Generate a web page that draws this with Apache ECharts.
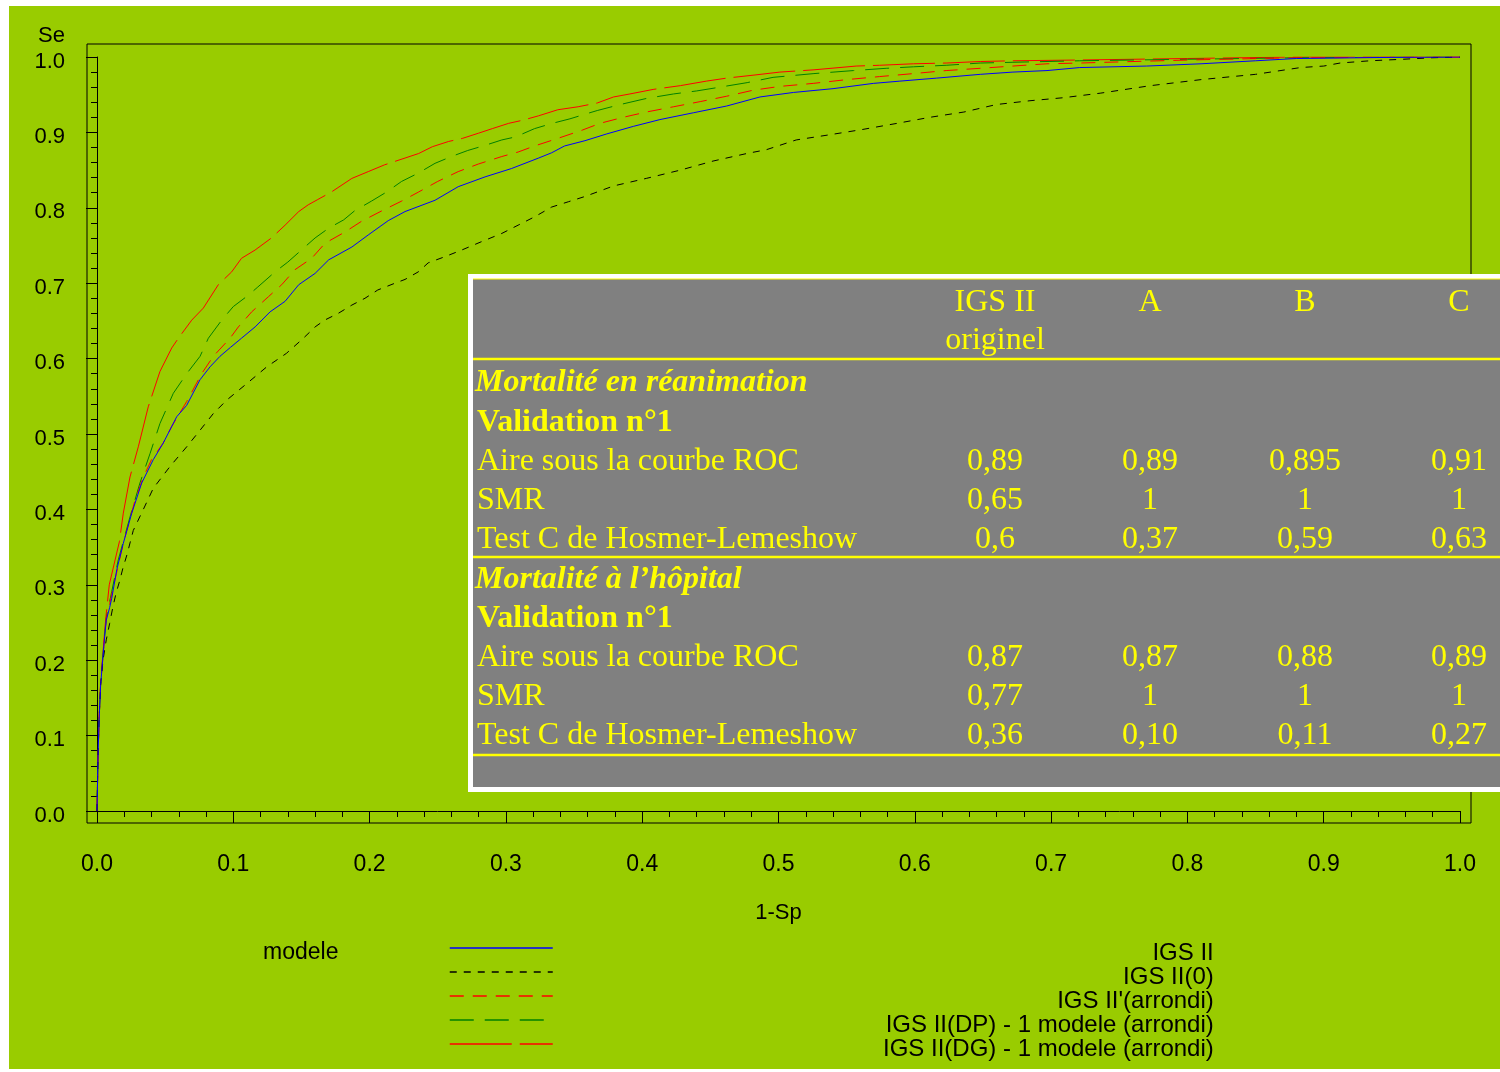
<!DOCTYPE html>
<html>
<head>
<meta charset="utf-8">
<script src="https://cdn.jsdelivr.net/npm/echarts@6/dist/echarts.min.js"></script>
<style>
  html, body { margin: 0; padding: 0; background: #ffffff; }
  #chart { width: 1500px; height: 1072px; }
</style>
</head>
<body>
<div id="chart"></div>
<script>
// ROC curves: [1 - specificity, sensitivity]
const rocIgs2 = [[0,0],[0.0007,0.068],[0.0015,0.12],[0.0027,0.168],[0.0044,0.205],[0.0056,0.231],[0.0068,0.253],[0.0093,0.27],[0.0108,0.282],[0.0145,0.32],[0.0193,0.355],[0.0255,0.395],[0.0328,0.435],[0.0413,0.466],[0.0486,0.488],[0.0585,0.523],[0.0658,0.538],[0.0756,0.572],[0.0829,0.589],[0.0902,0.603],[0.098,0.615],[0.106,0.627],[0.116,0.642],[0.127,0.662],[0.138,0.676],[0.148,0.698],[0.16,0.713],[0.17,0.731],[0.187,0.748],[0.199,0.764],[0.2137,0.783],[0.226,0.795],[0.248,0.81],[0.265,0.828],[0.2847,0.841],[0.304,0.852],[0.324,0.866],[0.3336,0.873],[0.343,0.882],[0.358,0.889],[0.374,0.898],[0.3935,0.908],[0.413,0.917],[0.4375,0.926],[0.462,0.935],[0.4864,0.947],[0.511,0.953],[0.54,0.958],[0.5696,0.965],[0.589,0.968],[0.616,0.972],[0.648,0.977],[0.672,0.98],[0.697,0.982],[0.721,0.986],[0.77,0.988],[0.81,0.991],[0.85,0.995],[0.88,0.998],[0.95,0.9995],[1,1]];

const rocIgs2Zero = [[0,0],[0.0007,0.068],[0.0015,0.12],[0.0027,0.168],[0.0044,0.2],[0.0068,0.227],[0.0093,0.249],[0.0117,0.271],[0.014,0.289],[0.0166,0.305],[0.019,0.322],[0.022,0.34],[0.0266,0.372],[0.034,0.4],[0.0413,0.428],[0.0536,0.457],[0.0658,0.483],[0.0756,0.505],[0.0853,0.527],[0.0952,0.545],[0.11,0.567],[0.1245,0.589],[0.139,0.607],[0.1514,0.627],[0.16,0.642],[0.167,0.651],[0.177,0.66],[0.187,0.671],[0.1966,0.68],[0.206,0.691],[0.2186,0.7],[0.226,0.705],[0.2357,0.715],[0.243,0.727],[0.255,0.735],[0.2676,0.744],[0.282,0.755],[0.297,0.766],[0.309,0.777],[0.321,0.788],[0.3336,0.801],[0.3458,0.808],[0.358,0.815],[0.379,0.829],[0.403,0.839],[0.428,0.85],[0.452,0.862],[0.4767,0.872],[0.491,0.877],[0.513,0.89],[0.538,0.897],[0.562,0.904],[0.587,0.912],[0.611,0.92],[0.636,0.927],[0.66,0.937],[0.6845,0.942],[0.709,0.946],[0.736,0.952],[0.773,0.962],[0.81,0.97],[0.85,0.977],[0.883,0.986],[0.9,0.988],[0.912,0.992],[0.934,0.995],[0.958,0.997],[0.98,0.999],[1,1]];

const rocIgs2Arrondi = [[0,0],[0.0007,0.068],[0.0015,0.12],[0.0027,0.17],[0.0044,0.205],[0.0056,0.232],[0.0068,0.255],[0.0093,0.275],[0.012,0.297],[0.0193,0.355],[0.0279,0.412],[0.034,0.443],[0.04,0.466],[0.0486,0.488],[0.0548,0.51],[0.0658,0.543],[0.0768,0.58],[0.0853,0.603],[0.0976,0.627],[0.1037,0.642],[0.1135,0.662],[0.1257,0.682],[0.1355,0.698],[0.1453,0.718],[0.1575,0.733],[0.1673,0.753],[0.182,0.768],[0.194,0.782],[0.209,0.796],[0.2236,0.809],[0.236,0.821],[0.25,0.835],[0.265,0.848],[0.2797,0.858],[0.297,0.868],[0.309,0.874],[0.321,0.882],[0.338,0.892],[0.356,0.903],[0.369,0.912],[0.386,0.92],[0.403,0.927],[0.423,0.934],[0.443,0.941],[0.462,0.948],[0.4815,0.956],[0.501,0.961],[0.5255,0.965],[0.55,0.97],[0.574,0.974],[0.599,0.978],[0.623,0.982],[0.648,0.985],[0.672,0.988],[0.697,0.991],[0.721,0.992],[0.8,0.996],[0.88,0.999],[1,1]];

const rocDP = [[0,0],[0.0007,0.068],[0.0015,0.12],[0.0027,0.17],[0.0044,0.207],[0.0056,0.233],[0.0068,0.256],[0.0093,0.278],[0.0108,0.291],[0.0156,0.333],[0.0242,0.39],[0.0315,0.435],[0.0389,0.474],[0.0462,0.514],[0.056,0.554],[0.0658,0.58],[0.0756,0.603],[0.0817,0.627],[0.0915,0.651],[0.1,0.669],[0.111,0.684],[0.118,0.695],[0.1306,0.715],[0.14,0.728],[0.15,0.744],[0.16,0.76],[0.17,0.773],[0.181,0.784],[0.189,0.796],[0.2015,0.809],[0.2125,0.821],[0.2235,0.835],[0.2357,0.846],[0.248,0.859],[0.26,0.868],[0.272,0.876],[0.285,0.883],[0.297,0.89],[0.307,0.894],[0.321,0.905],[0.334,0.912],[0.347,0.918],[0.356,0.923],[0.367,0.929],[0.384,0.937],[0.403,0.945],[0.423,0.951],[0.44,0.955],[0.457,0.96],[0.477,0.966],[0.496,0.973],[0.526,0.978],[0.555,0.982],[0.579,0.985],[0.599,0.987],[0.623,0.989],[0.648,0.992],[0.672,0.993],[0.721,0.995],[0.8,0.997],[0.88,0.999],[1,1]];

const rocDG = [[0,0],[0.0007,0.068],[0.0015,0.121],[0.0027,0.172],[0.0044,0.21],[0.0056,0.238],[0.0068,0.262],[0.009,0.3],[0.0164,0.357],[0.0193,0.395],[0.0242,0.443],[0.0303,0.483],[0.0376,0.536],[0.0462,0.583],[0.0548,0.614],[0.0597,0.627],[0.0695,0.651],[0.078,0.667],[0.089,0.698],[0.0988,0.715],[0.106,0.733],[0.116,0.744],[0.128,0.76],[0.138,0.777],[0.148,0.795],[0.155,0.804],[0.162,0.811],[0.172,0.821],[0.187,0.839],[0.199,0.848],[0.211,0.857],[0.226,0.866],[0.236,0.872],[0.246,0.881],[0.258,0.888],[0.268,0.892],[0.28,0.899],[0.29,0.905],[0.302,0.912],[0.312,0.916],[0.324,0.922],[0.338,0.93],[0.353,0.934],[0.367,0.939],[0.379,0.947],[0.391,0.951],[0.408,0.957],[0.428,0.962],[0.447,0.968],[0.462,0.972],[0.482,0.976],[0.501,0.98],[0.526,0.983],[0.557,0.988],[0.574,0.989],[0.599,0.991],[0.623,0.992],[0.648,0.994],[0.672,0.995],[0.721,0.996],[0.8,0.998],[0.88,1],[1,1]];

const seriesNames = ['IGS II', 'IGS II(0)', "IGS II'(arrondi)", 'IGS II(DP) - 1 modele (arrondi)', 'IGS II(DG) - 1 modele (arrondi)'];
const seriesData = [rocIgs2, rocIgs2Zero, rocIgs2Arrondi, rocDP, rocDG];

// Summary table
const tableHeader = [['IGS II', 'originel'], ['A'], ['B'], ['C']];
const sectionTitles = ['Mortalité en réanimation', 'Mortalité à l’hôpital'];
const subTitle = 'Validation n°1';
const rowLabels = ['Aire sous la courbe ROC', 'SMR', 'Test C de Hosmer-Lemeshow'];
const reaValues = [['0,89', '0,89', '0,895', '0,91'], ['0,65', '1', '1', '1'], ['0,6', '0,37', '0,59', '0,63']];
const hopValues = [['0,87', '0,87', '0,88', '0,89'], ['0,77', '1', '1', '1'], ['0,36', '0,10', '0,11', '0,27']];

// ---- styling ----
const SANS = '"Liberation Sans", Arial, sans-serif';
const SERIF = '"Liberation Serif", "Times New Roman", serif';
const YELLOW = '#ffff00';
const lineColors = ['#0000ff', '#000000', '#ff0000', '#008000', '#ff0000'];
const lineDashes = ['solid', [7, 7], [14, 9], [24, 11], [62, 8]];

const chart = echarts.init(document.getElementById('chart'), null, { renderer: 'canvas' });

function txt(x, y, text, font, align, color, z) {
  return {
    type: 'text', x: x, y: y, z: z,
    style: {
      text: text, font: font, fill: color,
      align: align, textAlign: align,
      verticalAlign: 'middle', textVerticalAlign: 'middle'
    }
  };
}

// table geometry
const tbl = { left: 468, top: 274, right: 1510, bottom: 792, border: 5 };
const colX = [995, 1150, 1305, 1459];
const labelX = 477;
const tableEls = [];
tableEls.push({ type: 'rect', z: 20, shape: { x: tbl.left, y: tbl.top, width: tbl.right - tbl.left, height: tbl.bottom - tbl.top }, style: { fill: '#ffffff' } });
tableEls.push({ type: 'rect', z: 21, shape: { x: tbl.left + tbl.border, y: tbl.top + tbl.border, width: tbl.right - tbl.left - tbl.border, height: tbl.bottom - tbl.top - 2 * tbl.border }, style: { fill: '#808080' } });
[[279, 1.2], [359, 2.5], [557, 2.5], [755, 2.5]].forEach(function (l) {
  tableEls.push({ type: 'line', z: 22, shape: { x1: tbl.left + tbl.border, y1: l[0], x2: 1500, y2: l[0] }, style: { stroke: YELLOW, lineWidth: l[1] } });
});
const fReg = '32px ' + SERIF;
const fBold = 'bold 32px ' + SERIF;
const fItal = 'italic bold 32px ' + SERIF;
tableHeader.forEach(function (lines, c) {
  lines.forEach(function (t, k) { tableEls.push(txt(colX[c], 303 + 38 * k, t, fReg, 'center', YELLOW, 23)); });
});
[[383, 39.25, reaValues], [580, 39, hopValues]].forEach(function (sec, s) {
  const y0 = sec[0], step = sec[1], vals = sec[2];
  tableEls.push(txt(labelX - 2, y0, sectionTitles[s], fItal, 'left', YELLOW, 23));
  tableEls.push(txt(labelX, y0 + step, subTitle, fBold, 'left', YELLOW, 23));
  rowLabels.forEach(function (lab, r) {
    const y = y0 + step * (r + 2);
    tableEls.push(txt(labelX, y, lab, fReg, 'left', YELLOW, 23));
    vals[r].forEach(function (v, c) { tableEls.push(txt(colX[c], y, v, fReg, 'center', YELLOW, 23)); });
  });
});

const tickFmt = function (v) { return v.toFixed(1); };

const option = {
  animation: false,
  backgroundColor: '#ffffff',
  grid: { left: 97, top: 57, width: 1363, height: 754, outerBoundsMode: 'none', containLabel: false },
  xAxis: {
    type: 'value', min: 0, max: 1, interval: 0.1, offset: 12,
    name: '1-Sp', nameLocation: 'middle', nameGap: 79,
    nameTextStyle: { fontFamily: SANS, fontSize: 22, color: '#000' },
    axisLine: { show: true, lineStyle: { color: '#000', width: 1 } },
    axisTick: { show: true, length: 12, inside: false, lineStyle: { color: '#000' } },
    minorTick: { show: true, splitNumber: 5, length: 6, lineStyle: { color: '#000' } },
    axisLabel: { fontFamily: SANS, fontSize: 23, color: '#000', margin: 30, formatter: tickFmt },
    splitLine: { show: false }, minorSplitLine: { show: false }
  },
  yAxis: {
    type: 'value', min: 0, max: 1, interval: 0.1, offset: 10,
    axisLine: { show: true, lineStyle: { color: '#000', width: 1 } },
    axisTick: { show: true, length: 11, inside: false, lineStyle: { color: '#000' } },
    minorTick: { show: true, splitNumber: 5, length: 6, lineStyle: { color: '#000' } },
    axisLabel: {
      fontFamily: SANS, fontSize: 22, color: '#000', margin: 22,
      formatter: function (v) { return '{t|' + tickFmt(v) + '}'; },
      rich: { t: { fontFamily: SANS, fontSize: 22, color: '#000', lineHeight: 22, padding: [9, 0, 0, 0] } }
    },
    splitLine: { show: false }, minorSplitLine: { show: false }
  },
  legend: {
    orient: 'vertical', left: 449, top: 931, height: 140, padding: 0,
    itemWidth: 103, itemHeight: 24, itemGap: -10,
    selectedMode: false,
    data: seriesNames,
    itemStyle: { opacity: 0, borderWidth: 0 },
    lineStyle: { width: 1.5 },
    formatter: function (name) { return '{r|' + name + '}'; },
    textStyle: {
      fontFamily: SANS, fontSize: 24, color: '#000',
      rich: { r: { width: 656, align: 'right', fontFamily: SANS, fontSize: 24, color: '#000', lineHeight: 14, padding: [10, 0, 0, 0] } }
    }
  },
  series: seriesNames.map(function (name, i) {
    return {
      name: name, type: 'line', data: seriesData[i],
      showSymbol: false, symbol: 'none', smooth: false,
      lineStyle: { color: lineColors[i], width: 1, type: lineDashes[i] },
      itemStyle: { color: lineColors[i] },
      z: 3 + (seriesNames.length - i)
    };
  }),
  graphic: [
    { type: 'rect', z: -100, silent: true, shape: { x: 9, y: 6, width: 1491, height: 1063 }, style: { fill: '#99cc00' } },
    { type: 'rect', z: 1, silent: true, shape: { x: 87, y: 44, width: 1384, height: 779 }, style: { fill: 'none', stroke: '#000', lineWidth: 1 } },
    txt(65, 36, 'Se', '22px ' + SANS, 'right', '#000', 5),
    txt(263, 953, 'modele', '23px ' + SANS, 'left', '#000', 5)
  ].concat(tableEls)
};

chart.setOption(option);
</script>
</body>
</html>
